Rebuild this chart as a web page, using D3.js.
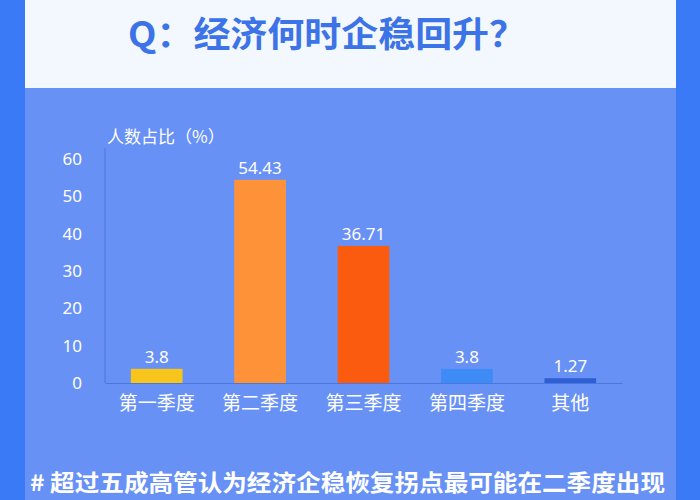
<!DOCTYPE html>
<html>
<head>
<meta charset="utf-8">
<script src="https://cdn.jsdelivr.net/npm/d3@7/dist/d3.min.js"></script>
<style>
  body { margin: 0; padding: 0; }
  svg { display: block; }
  text { font-family: "Noto Sans CJK SC", "Noto Sans", sans-serif; }
</style>
</head>
<body>
<div id="chart"></div>
<script>
const categories = ["第一季度", "第二季度", "第三季度", "第四季度", "其他"];
const values = [3.8, 54.43, 36.71, 3.8, 1.27];
const barColors = ["#f8c51c", "#fd9238", "#fb5b0f", "#3f8bf5", "#2e5fd6"];
const yTicks = [0, 10, 20, 30, 40, 50, 60];

const width = 700, height = 500;
const margin = {top: 159, right: 78, bottom: 116, left: 105};

const svg = d3.select("#chart").append("svg")
    .attr("width", width)
    .attr("height", height);

// backgrounds
svg.append("rect").attr("width", width).attr("height", height).attr("fill", "#3b7af7");
svg.append("rect").attr("x", 25).attr("y", 88).attr("width", 651).attr("height", 412).attr("fill", "#6891f6");
svg.append("rect").attr("x", 25).attr("y", 0).attr("width", 651).attr("height", 88).attr("fill", "#f3f8ff");

svg.append("text")
    .attr("x", 128)
    .attr("y", 47)
    .attr("fill", "#3c73e6")
    .attr("font-size", 35)
    .attr("font-weight", "bold")
    .attr("textLength", 398)
    .attr("lengthAdjust", "spacingAndGlyphs")
    .text("Q：经济何时企稳回升？");

const x = d3.scaleBand()
    .domain(categories)
    .range([margin.left, width - margin.right])
    .paddingInner(0.5)
    .paddingOuter(0.25);

const y = d3.scaleLinear()
    .domain([0, 60])
    .range([height - margin.bottom - 1, margin.top]);

// y axis
const yAxis = svg.append("g")
    .attr("transform", `translate(${margin.left},0)`)
    .call(d3.axisLeft(y).tickValues(yTicks).tickSize(0).tickPadding(23));
yAxis.select(".domain").attr("stroke", "#4a77d9").attr("d", `M0,${margin.top - 11}V${y(0)}`);
yAxis.selectAll("text").attr("fill", "#ffffff").attr("font-size", 17)
    .style("font-family", "'Noto Sans', sans-serif");

svg.append("text")
    .attr("x", margin.left + 2)
    .attr("y", 143)
    .attr("fill", "#ffffff")
    .attr("font-size", 17)
    .text("人数占比（%）");

// x axis
const xAxis = svg.append("g")
    .attr("transform", `translate(0,${y(0)})`)
    .call(d3.axisBottom(x).tickSize(0).tickPadding(14));
xAxis.select(".domain").attr("stroke", "#4a77d9");
xAxis.selectAll("text").attr("fill", "#ffffff").attr("font-size", 19);

// bars
svg.selectAll("rect.bar")
    .data(values)
    .enter()
    .append("rect")
    .attr("class", "bar")
    .attr("x", (d, i) => x(categories[i]))
    .attr("y", d => y(d))
    .attr("width", x.bandwidth())
    .attr("height", d => y(0) - y(d))
    .attr("fill", (d, i) => barColors[i]);

svg.selectAll("text.val")
    .data(values)
    .enter()
    .append("text")
    .attr("class", "val")
    .attr("x", (d, i) => x(categories[i]) + x.bandwidth() / 2)
    .attr("y", d => y(d) - 6)
    .attr("text-anchor", "middle")
    .attr("fill", "#ffffff")
    .attr("font-size", 17)
    .style("font-family", "'Noto Sans', sans-serif")
    .text(d => d);

svg.append("text")
    .attr("x", 30)
    .attr("y", 491)
    .attr("fill", "#ffffff")
    .attr("font-size", 23)
    .attr("font-weight", "bold")
    .attr("textLength", 635)
    .attr("lengthAdjust", "spacingAndGlyphs")
    .text("# 超过五成高管认为经济企稳恢复拐点最可能在二季度出现");
</script>
</body>
</html>
